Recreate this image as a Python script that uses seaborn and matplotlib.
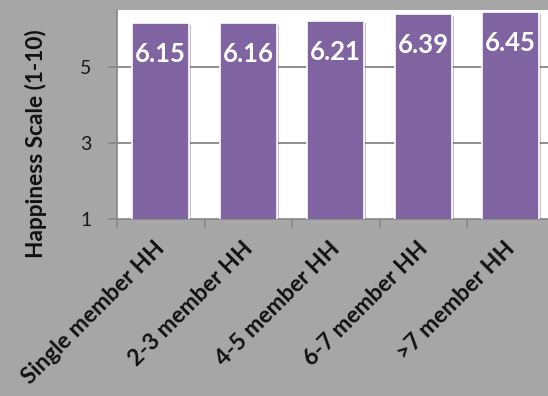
import matplotlib
matplotlib.use("Agg")
import matplotlib.pyplot as plt
import matplotlib.patheffects as pe
from matplotlib.ticker import FixedLocator
from matplotlib.transforms import ScaledTranslation
import seaborn as sns
import pandas as pd

# Household size groups and mean happiness score
categories = ["Single member HH", "2-3 member HH", "4-5 member HH",
              "6-7 member HH", ">7 member HH"]
happiness = [6.15, 6.16, 6.21, 6.39, 6.45]
y_ticks = [1, 3, 5]

df = pd.DataFrame({"group": categories, "score": happiness})

sns.set_theme(style="white")
plt.rcParams["font.family"] = ["Lato", "DejaVu Sans"]

BG = "#a6a6a6"
BAR = "#8064a2"
LINE = "#878787"

fig = plt.figure(figsize=(5.48, 3.96), dpi=100, facecolor=BG)
ax = fig.add_axes([117 / 548, 1 - 219 / 396, 437.5 / 548, 209 / 396])
ax.set_facecolor("white")

sns.barplot(data=df, x="group", y="score", color=BAR, saturation=1,
            width=0.65, edgecolor="white", linewidth=1.2, ax=ax, zorder=3)
for patch in ax.patches:
    patch.set_path_effects([
        pe.SimplePatchShadow(offset=(1.5, -1.5), shadow_rgbFace="#555555", alpha=0.35),
        pe.Normal(),
    ])

ax.set_xlim(-0.5, len(categories) - 0.5)
ax.set_ylim(1, 6.5)
ax.yaxis.set_major_locator(FixedLocator(y_ticks))
ax.set_yticklabels([str(t) for t in y_ticks])

# Horizontal grid at 3 and 5
for t in y_ticks[1:]:
    ax.axhline(t, color=LINE, lw=1.3, zorder=1)

for s in ["top", "right"]:
    ax.spines[s].set_visible(False)
for s in ["left", "bottom"]:
    ax.spines[s].set_color(LINE)
    ax.spines[s].set_linewidth(1.2)

ax.tick_params(axis="y", length=6.5, width=1.2, color=LINE, pad=12,
               labelsize=14, labelcolor="#1a1a1a", left=True)
ax.tick_params(axis="x", which="major", length=0, pad=19,
               labelsize=16.5, labelcolor="#111111")
ax.xaxis.set_minor_locator(FixedLocator([i - 0.5 for i in range(len(categories) + 1)]))
ax.tick_params(axis="x", which="minor", length=6.5, width=1.2, color=LINE, bottom=True)

shift = ScaledTranslation(1 / 100, 0, fig.dpi_scale_trans)
for lbl in ax.get_xticklabels():
    lbl.set_rotation(45)
    lbl.set_rotation_mode("anchor")
    lbl.set_ha("right")
    lbl.set_va("center")
    lbl.set_fontweight("bold")
    lbl.set_transform(lbl.get_transform() + shift)

ax.set_xlabel("")
ax.set_ylabel("")
fig.text(36 / 548, 1 - 144 / 396, "Happiness Scale (1-10)", rotation=90,
         ha="center", va="center", fontsize=16.3, fontweight="bold", color="#111111")

# Value labels inside the bar tops
for i, v in enumerate(happiness):
    ax.annotate(f"{v:.2f}", xy=(i, v), xytext=(0, -39), textcoords="offset pixels",
                ha="center", va="baseline", color="white", fontsize=18.5,
                fontweight="bold", zorder=5)

fig.savefig("out.png", dpi=100, facecolor=BG)
